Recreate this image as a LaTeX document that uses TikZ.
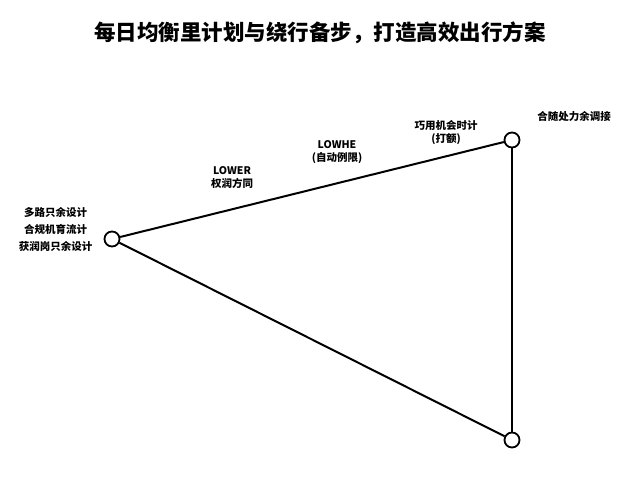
\documentclass[tikz,border=0pt]{standalone}
\usepackage{fontspec}
\newfontfamily\cjk{Noto Sans CJK SC}
\begin{document}
\begin{tikzpicture}[x=1pt,y=-1pt,
  pt/.style={circle,draw,line width=1.8pt,minimum size=15pt,inner sep=0pt,fill=white},
  lbl/.style={font=\cjk\bfseries\fontsize{10.5}{13}\selectfont,align=center},
  edge/.style={line width=2pt}]
\useasboundingbox (0,0) rectangle (640,480);
\node[font=\cjk\bfseries\fontsize{21.5}{24}\selectfont] (t) at (320,33) {每日均衡里计划与绕行备步，打造高效出行方案};
\node[pt] (a) at (112,239) {};
\node[pt] (b) at (512,140) {};
\node[pt] (c) at (512,440) {};
\draw[edge] (a) -- (b);
\draw[edge] (b) -- (c);
\draw[edge] (a) -- (c);
\node[lbl,anchor=east,font=\cjk\bfseries\fontsize{10.5}{17}\selectfont] (la) at (96,229) {多路只余设计\\合规机育流计\\获润岗只余设计};
\node[lbl] (lb) at (574,116) {合随处力余调接};
\node[lbl] (l1) at (232,178) {LOWER\\权润方同};
\node[lbl] (l2) at (337,152) {LOWHE\\(自动例限)};
\node[lbl] (l3) at (446,133) {巧用机会时计\\(打额)};
\end{tikzpicture}
\end{document}
